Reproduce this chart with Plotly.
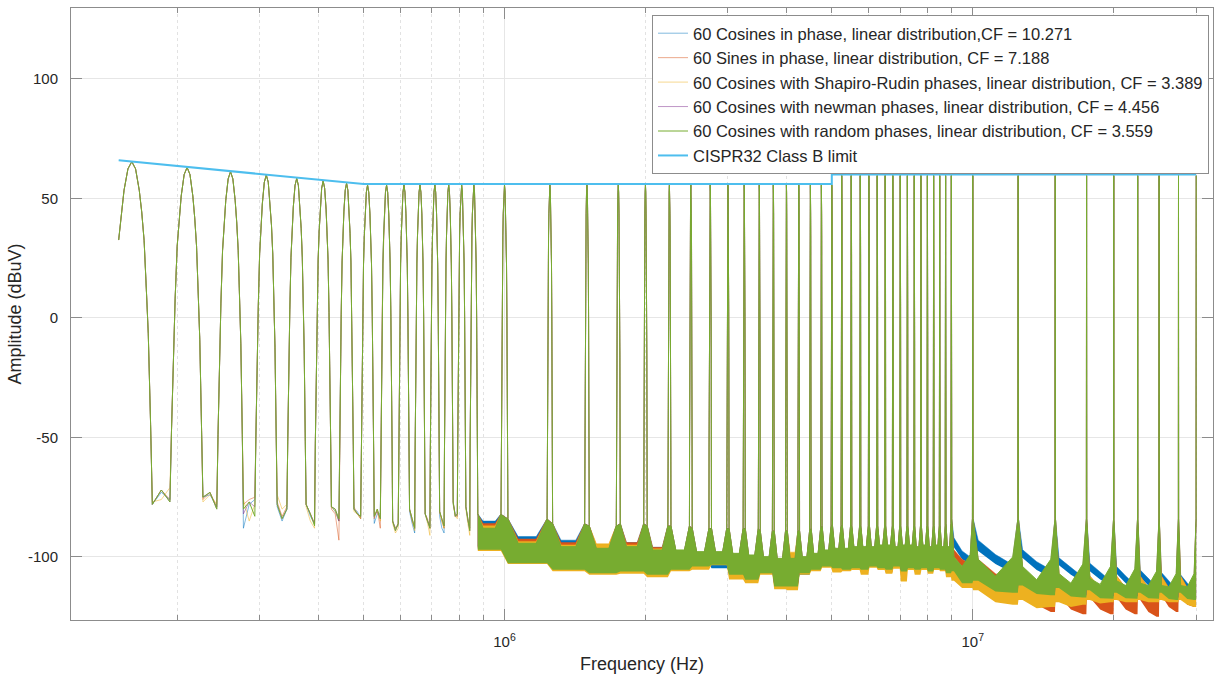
import plotly.graph_objects as go

# ---------------- data ----------------
# tone peaks of the measured spectra (MHz, dBuV)
peak_freq_mhz = [0.16, 0.21, 0.26, 0.31, 0.36, 0.41, 0.46, 0.51, 0.56, 0.61, 0.66, 0.71, 0.76, 0.81, 0.86,
                 1.00, 1.25, 1.50, 1.75, 2.00, 2.25, 2.50, 2.75, 3.00, 3.25, 3.50, 3.75, 4.00, 4.25, 4.50, 4.75, 5.00,
                 5.25, 5.50, 5.75, 6.00, 6.25, 6.50, 6.75, 7.00, 7.25, 7.50, 7.75, 8.00, 8.25, 8.50, 8.75, 9.00,
                 10.0, 12.5, 15.0, 17.5, 20.0, 22.5, 25.0, 27.5, 30.0]
peak_level_dbuv = [65.4, 63.0, 61.2, 59.8, 58.4, 57.3, 56.4, 55.6, 55.6, 55.6, 55.6, 55.6, 55.6, 55.6, 55.6,
                   55.6, 55.6, 55.6, 55.6, 55.6, 55.6, 55.6, 55.6, 55.6, 55.6, 55.6, 55.6, 55.6, 55.6, 55.6, 55.6, 55.6,
                   59.6, 59.6, 59.6, 59.6, 59.6, 59.6, 59.6, 59.6, 59.6, 59.6, 59.6, 59.6, 59.6, 59.6, 59.6, 59.6,
                   59.6, 59.6, 59.6, 59.6, 59.6, 59.6, 59.6, 59.6, 59.6]
start_freq_mhz = 0.150
start_level_dbuv = 32.6
stop_freq_mhz = 30.0

# main-lobe profile around every tone (offset kHz, drop below peak dB)
lobe_offset_khz = [-15.5, -13.5, -12, -10, -8, -6, -3, 0, 3, 6, 8, 10, 12, 13.5, 15.5]
lobe_drop_db = [110, 72, 55, 33, 21, 12, 3, 0, 3, 12, 21, 33, 55, 72, 110]

# low band valleys (< 0.86 MHz): points at +17, +25, +33 kHz from the left tone
valley_offset_khz = [17, 25, 33]
# noise bowls above 0.86 MHz
skirt_offset_khz = 17
bowl_b_frac = [0.3, 0.7]
bowl_c_frac = [0.12, 0.5, 0.88]
bowl_b_edge_db = [-82, -84, -86, -87, -86, -87, -87, -88, -88, -88, -88, -89, -89, -89, -89, -88, -87,
                  -87, -87, -87, -87, -87, -87, -87, -87, -87, -87, -87, -87, -87, -87, -87, -86]
bowl_c_skirt_db = -84

# ---- 60 Cosines in phase ----
cos_valley_a = [[-78, -73, -76], [-75, -74, -79], [-88, -78, -76], [-79, -85, -80], [-78, -83, -86],
                [-79, -81, -85], [-80, -81, -84], [-86, -82, -82], [-85, -88, -87], [-81, -86, -90],
                [-82, -85, -87], [-83, -88, -90], [-78, -82, -83], [-79, -85, -88]]
cos_bowl_b_top = [-85, -91.5, -93.0, -96.0, -94.0, -96.0, -97.5, -98.3, -98.3, -99.0, -99.7, -100.4, -101.1,
                  -101.1, -100.4, -99.0, -97.6, -96.9, -96.9, -96.2, -96.2, -96.2, -95.5, -95.5, -96.2, -95.5,
                  -95.5, -96.2, -95.5, -96.2, -95.5, -96.2, -96.2]
cos_bowl_b_bot = [-95.5, -101.1, -103.9, -105.3, -104.6, -106.0, -103.9, -102.5, -104.7, -106.0, -108.1, -105.3,
                  -110.9, -110.9, -107.5, -103.9, -102.5, -103.2, -103.9, -103.2, -103.9, -102.5, -103.2, -103.9,
                  -102.5, -104.6, -103.2, -103.9, -103.2, -104.6, -103.2, -103.9, -105.3]
cos_bowl_c_top = [[-92, -97.5, -100], [-93, -99, -103.3], [-97, -102, -105.4], [-100.4, -104.5, -108.4],
                  [-102.6, -106.5, -110], [-104, -108, -111.5], [-105.5, -109, -112.5], [-106.5, -110, -113.5],
                  [-107.5, -111, -114.5]]
cos_bowl_c_bot = [[-96, -101, -103], [-97.5, -103, -106.7], [-100.5, -105.5, -108.5], [-103.5, -107.5, -110.5],
                  [-106, -109.5, -112], [-107, -111, -113.5], [-108.5, -112, -114.5], [-109.5, -113, -115.5],
                  [-110.5, -114, -117]]

# ---- 60 Sines in phase ----
sin_valley_a = [[-78, -72, -76], [-76, -73, -79], [-78, -76, -75], [-77, -83, -79], [-78, -82, -86],
                [-80, -82, -93], [-79, -82, -84], [-84, -80, -88], [-85, -88, -86], [-80, -85, -88],
                [-82, -84, -88], [-81, -85, -88], [-77, -83, -83], [-79, -84, -88]]
sin_bowl_b_top = [-86, -92.5, -94.0, -95.0, -94.0, -96.0, -97.6, -98.3, -98.3, -99.0, -99.7, -100.4, -101.1,
                  -101.1, -100.4, -99.0, -97.6, -96.9, -96.9, -96.2, -96.2, -96.2, -95.5, -95.5, -96.2, -95.5,
                  -95.5, -96.2, -95.5, -96.2, -95.5, -96.2, -96.2]
sin_bowl_b_bot = [-96, -101.5, -104.4, -105.8, -105.1, -106.5, -104.4, -103.0, -102.3, -106.5, -108.6, -105.8,
                  -111.4, -111.4, -105.8, -104.4, -103.0, -103.7, -104.4, -103.7, -104.4, -103.0, -103.7, -106.5,
                  -103.0, -105.1, -103.7, -104.4, -103.7, -105.1, -103.7, -104.4, -105.8]
sin_bowl_c_top = [[-97, -101, -103], [-101, -107, -110], [-105, -111, -110], [-107, -112, -111],
                  [-108, -113, -111], [-108, -113, -111], [-108, -113, -111], [-108, -113, -111],
                  [-108, -113, -111]]
sin_bowl_c_bot = [[-100, -104, -105.5], [-104, -112, -118], [-112, -120, -123], [-116, -122, -124],
                  [-117, -122, -124], [-117, -122, -124], [-118, -123, -125], [-116, -121, -123],
                  [-117, -120, -121]]

# ---- 60 Cosines with Shapiro-Rudin phases ----
shr_valley_a = [[-77, -76, -71], [-77, -74, -78], [-76, -85, -78], [-74, -80, -78], [-79, -85, -88],
                [-79, -81, -85], [-81, -82, -84], [-82, -81, -85], [-86, -90, -88], [-80, -84, -89],
                [-82, -86, -91], [-81, -85, -88], [-78, -83, -84], [-80, -86, -91]]
shr_bowl_b_top = [-87, -93.5, -95.0, -94.5, -95.0, -96.6, -97.6, -98.3, -98.3, -99.0, -99.7, -100.4, -101.1,
                  -98.0, -100.4, -99.0, -97.6, -96.9, -96.9, -96.2, -96.2, -96.2, -95.5, -95.5, -96.2, -95.5,
                  -95.5, -96.2, -95.5, -96.2, -95.5, -96.2, -96.2]
shr_bowl_b_bot = [-97.5, -103.0, -106.0, -107.5, -107.0, -108.5, -106.0, -105.4, -103.5, -109.5, -111.0, -107.5,
                  -113.5, -114.0, -107.5, -106.0, -104.5, -106.5, -106.0, -105.5, -107.5, -104.5, -105.5, -107.0,
                  -105.0, -110.3, -105.5, -107.5, -105.5, -107.0, -105.5, -106.0, -108.5]
shr_bowl_c_top = [[-100, -105, -103], [-104, -110, -106], [-106, -111, -107], [-107, -112, -109],
                  [-108, -113, -110], [-108, -113, -110], [-108, -113, -110], [-108, -113, -110],
                  [-108, -113, -110]]
shr_bowl_c_bot = [[-110, -113, -113], [-114, -119, -120], [-118, -121.5, -121], [-119, -121, -120],
                  [-118, -119.5, -119], [-118, -119, -119], [-118, -119, -119], [-118, -119, -119],
                  [-118, -120, -121]]

# ---- 60 Cosines with newman phases ----
nwm_valley_a = [[-78, -72, -77], [-75, -73, -80], [-82, -77, -79], [-78, -84, -80], [-78, -82, -86],
                [-79, -80, -85], [-80, -82, -83], [-83, -81, -84], [-85, -89, -86], [-80, -84, -88],
                [-82, -85, -88], [-81, -84, -87], [-77, -83, -82], [-79, -84, -89]]
nwm_bowl_b_top = [-88.3, -94.6, -96.0, -96.7, -96.0, -97.4, -97.4, -98.1, -98.1, -98.8, -99.5, -100.2, -100.9,
                  -100.9, -100.2, -98.8, -97.4, -96.7, -96.7, -96.0, -96.0, -96.0, -95.3, -95.3, -96.0, -95.3,
                  -95.3, -96.0, -95.3, -96.0, -95.3, -96.0, -96.0]
nwm_bowl_b_bot = [-96.5, -102.0, -104.8, -106.2, -105.5, -106.9, -104.8, -103.4, -102.7, -106.9, -109.0, -106.2,
                  -111.8, -111.8, -106.2, -104.8, -103.4, -104.1, -104.8, -104.1, -104.8, -103.4, -104.1, -104.8,
                  -103.4, -105.5, -104.1, -104.8, -104.1, -105.5, -104.1, -104.8, -106.2]
nwm_bowl_c_top = [[-101, -104.5, -100], [-102, -109, -101], [-105, -110.5, -103], [-108, -112, -105],
                  [-110, -112.5, -106], [-111, -113, -107], [-112, -113, -107], [-112.5, -113.5, -108],
                  [-112.5, -113.5, -108]]
nwm_bowl_c_bot = [[-105, -110, -110], [-109, -113.5, -114], [-111, -114.5, -115], [-112, -115.6, -116],
                  [-113, -116.3, -116.5], [-114, -116.3, -116.5], [-114, -116.3, -116.5], [-114, -116.6, -117],
                  [-114, -116.6, -117]]

# ---- 60 Cosines with random phases ----
rnd_valley_a = [[-78, -72, -77], [-75, -73, -80], [-80, -77, -83], [-78, -84, -80], [-78, -82, -87],
                [-79, -80, -84], [-80, -82, -83], [-83, -80, -84], [-85, -89, -86], [-80, -84, -88],
                [-82, -85, -88], [-81, -84, -87], [-77, -83, -82], [-79, -84, -89]]
rnd_bowl_b_top = [-88, -94.3, -95.7, -96.4, -95.7, -97.1, -97.1, -97.8, -97.8, -98.5, -99.2, -99.9, -100.6,
                  -100.6, -99.9, -98.5, -97.1, -96.4, -96.4, -95.7, -95.7, -95.7, -95.0, -95.0, -95.7, -95.0,
                  -95.0, -95.7, -95.0, -95.7, -95.0, -95.7, -95.7]
rnd_bowl_b_bot = [-97, -102.6, -105.4, -106.8, -106.1, -107.5, -105.4, -104.0, -103.3, -107.5, -109.6, -106.8,
                  -112.4, -112.4, -106.8, -105.4, -104.0, -104.7, -105.4, -104.7, -105.4, -104.0, -104.7, -105.4,
                  -104.0, -106.1, -104.7, -105.4, -104.7, -106.1, -104.7, -105.4, -106.8]
rnd_bowl_c_top = [[-100, -104, -99], [-101, -108, -100], [-104, -109.6, -101], [-107, -111, -103],
                  [-109, -111.5, -104], [-110, -112, -105], [-111, -112, -106], [-112, -112.5, -107],
                  [-112, -112.5, -107]]
rnd_bowl_c_bot = [[-106, -111, -111], [-110, -114.5, -115], [-112, -115.5, -116], [-113, -116.6, -117],
                  [-114, -117.3, -117.5], [-115, -117.3, -117.5], [-115, -117.3, -117.5], [-115, -117.6, -118],
                  [-115, -117.6, -118]]

# ---- CISPR 32 class B limit ----
limit_freq_mhz = [0.15, 0.5, 5.0, 5.0, 30.0]
limit_dbuv = [66, 56, 56, 60, 60]

series_names = ["60 Cosines in phase, linear distribution,CF = 10.271",
                "60 Sines in phase, linear distribution, CF = 7.188",
                "60 Cosines with Shapiro-Rudin phases, linear distribution, CF = 3.389",
                "60 Cosines with newman phases, linear distribution, CF = 4.456",
                "60 Cosines with random phases, linear distribution, CF = 3.559"]
limit_name = "CISPR32 Class B limit"
series_colors = ["#0072BD", "#D95319", "#EDB120", "#7E2F8E", "#77AC30"]
series_widths = [0.5, 0.5, 0.5, 0.5, 1.0]
limit_color = "#4DBEEE"

y_tickvals = [-100, -50, 0, 50, 100]
y_ticktext = ["-100", "-50", "0", "50", "100"]
x_tickvals = [1e6, 1e7]
x_ticktext = ["10<sup>6</sup>", "10<sup>7</sup>"]
x_minor = [2e5, 3e5, 4e5, 5e5, 6e5, 7e5, 8e5, 9e5, 2e6, 3e6, 4e6, 5e6, 6e6, 7e6, 8e6, 9e6, 2e7, 3e7]

MHZ = 1e6
N_A = 15
N_B = 33


def build(valley_a, b_top, b_bot, c_top, c_bot):
    xs, ys = [start_freq_mhz], [start_level_dbuv]
    tx, ty, bx, by = [], [], [], []
    n = len(peak_freq_mhz)
    for i in range(n):
        fp, lv = peak_freq_mhz[i], peak_level_dbuv[i]
        for off, drop in zip(lobe_offset_khz, lobe_drop_db):
            f = fp + off / 1000.0
            if start_freq_mhz < f <= stop_freq_mhz:
                xs.append(f)
                ys.append(lv - drop)
        if i == n - 1:
            break
        fn = peak_freq_mhz[i + 1]
        if i < N_A - 1:
            for off, v in zip(valley_offset_khz, valley_a[i]):
                xs.append(fp + off / 1000.0)
                ys.append(v)
            continue
        j = i - (N_A - 1)
        lo = fp + skirt_offset_khz / 1000.0
        hi = fn - skirt_offset_khz / 1000.0
        ratio = fn / fp
        if j < N_B:
            top = [(lo, bowl_b_edge_db[j])] + [(fp * ratio ** u, b_top[j]) for u in bowl_b_frac] + \
                  [(hi, bowl_b_edge_db[j])]
            bot = [(lo, b_bot[j]), (hi, b_bot[j])]
        else:
            k = j - N_B
            top = [(lo, bowl_c_skirt_db)] + [(fp * ratio ** u, v) for u, v in zip(bowl_c_frac, c_top[k])] + \
                  [(hi, bowl_c_skirt_db)]
            bot = [(lo, c_bot[k][0])] + [(fp * ratio ** u, v) for u, v in zip(bowl_c_frac, c_bot[k])] + \
                  [(hi, c_bot[k][2])]
        for f, v in top:
            xs.append(f)
            ys.append(v)
            tx.append(f)
            ty.append(v)
        for f, v in bot:
            bx.append(f)
            by.append(v)
    band_x = tx + bx[::-1]
    band_y = ty + by[::-1]
    return xs, ys, band_x, band_y


series_data = [
    (cos_valley_a, cos_bowl_b_top, cos_bowl_b_bot, cos_bowl_c_top, cos_bowl_c_bot),
    (sin_valley_a, sin_bowl_b_top, sin_bowl_b_bot, sin_bowl_c_top, sin_bowl_c_bot),
    (shr_valley_a, shr_bowl_b_top, shr_bowl_b_bot, shr_bowl_c_top, shr_bowl_c_bot),
    (nwm_valley_a, nwm_bowl_b_top, nwm_bowl_b_bot, nwm_bowl_c_top, nwm_bowl_c_bot),
    (rnd_valley_a, rnd_bowl_b_top, rnd_bowl_b_bot, rnd_bowl_c_top, rnd_bowl_c_bot),
]

fig = go.Figure()
for name, color, width, data in zip(series_names, series_colors, series_widths, series_data):
    xs, ys, band_x, band_y = build(*data)
    fig.add_trace(go.Scatter(x=[f * MHZ for f in band_x], y=band_y, mode="lines", fill="toself",
                             fillcolor=color, line=dict(width=0, color=color), showlegend=False,
                             hoverinfo="skip"))
    fig.add_trace(go.Scatter(x=[f * MHZ for f in xs], y=ys, mode="lines", name=name,
                             line=dict(color=color, width=width)))

fig.add_trace(go.Scatter(x=[f * MHZ for f in limit_freq_mhz], y=limit_dbuv, mode="lines", name=limit_name,
                         line=dict(color=limit_color, width=2)))

axis_col = "#8c8c8c"
grid_col = "#e6e6e6"
fig.update_layout(
    width=1215, height=675,
    margin=dict(l=71, r=2, t=8, b=55),
    paper_bgcolor="white", plot_bgcolor="white",
    font=dict(family="Liberation Sans, Arial, Helvetica, sans-serif", size=15, color="#262626"),
    showlegend=True,
    legend=dict(x=0.9965, xanchor="right", y=0.9886, yanchor="top", bgcolor="white",
                bordercolor=axis_col, borderwidth=1, font=dict(size=16.5), itemwidth=30,
                tracegroupgap=0),
)
fig.update_xaxes(
    type="log", range=[5.0743, 7.513], tickvals=x_tickvals, ticktext=x_ticktext,
    ticks="inside", ticklen=11, tickcolor=axis_col, showline=True, linecolor=axis_col, linewidth=1,
    mirror="ticks", showgrid=True, gridcolor=grid_col, zeroline=False, automargin=False,
    ticklabelstandoff=8,
    minor=dict(tickvals=x_minor, ticks="inside", ticklen=5, tickcolor=axis_col, showgrid=True,
               gridcolor="#e2e2e2", griddash="dot"),
    title=dict(text="Frequency (Hz)", font=dict(size=18), standoff=8),
)
fig.update_yaxes(
    range=[-126.4, 129.7], tickvals=y_tickvals, ticktext=y_ticktext,
    ticks="inside", ticklen=11, tickcolor=axis_col, showline=True, linecolor=axis_col, linewidth=1,
    mirror="ticks", showgrid=True, gridcolor=grid_col, zeroline=False, automargin=False,
    ticklabelstandoff=9,
    title=dict(text="Amplitude (dBuV)", font=dict(size=18), standoff=1),
)

fig.write_html("out.html", config={"displayModeBar": False},
               post_script="document.body.style.margin='0px';")
